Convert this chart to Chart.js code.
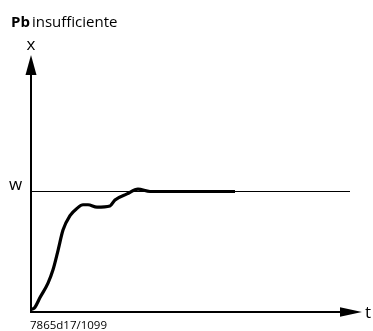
<!DOCTYPE html>
<html>
<head>
<meta charset="utf-8">
<script src="https://cdn.jsdelivr.net/npm/chart.js@4"></script>
<style>
  html, body { margin: 0; padding: 0; background: #fff; }
  #wrap { width: 373px; height: 331px; }
</style>
</head>
<body>
<div id="wrap"><canvas id="stepChart" width="373" height="331"></canvas></div>
<script>
// response curve (t in arbitrary units, x relative to setpoint w = 1)
const timeValues = [0.7, 4, 9, 17, 22, 27, 32, 39, 46, 52, 57, 66, 79, 84, 96, 107, 119, 204];
const responseValues = [0.02, 0.04, 0.12, 0.24, 0.35, 0.51, 0.68, 0.80, 0.86, 0.89, 0.89, 0.87, 0.88, 0.93, 0.98, 1.02, 1.0, 1.0];
const setpointTime = [0, 319];
const setpointValue = 1;
const axisMaxT = 331;
const axisMaxX = 2.1328;

const curve = timeValues.map((t, i) => ({ x: t, y: responseValues[i] }));
const setpoint = setpointTime.map(t => ({ x: t, y: setpointValue }));

const axesPlugin = {
  id: 'arrowAxes',
  afterDraw(chart) {
    const c = chart.ctx;
    const xs = chart.scales.x, ys = chart.scales.y;
    const x0 = xs.getPixelForValue(0), y0 = ys.getPixelForValue(0);
    const xEnd = xs.getPixelForValue(axisMaxT), yEnd = ys.getPixelForValue(axisMaxX);
    c.save();
    c.strokeStyle = '#000';
    c.fillStyle = '#000';
    c.lineWidth = 2;
    c.beginPath();
    c.moveTo(x0, y0 + 1);
    c.lineTo(x0, yEnd + 18);
    c.moveTo(x0, y0);
    c.lineTo(xEnd - 20, y0);
    c.stroke();
    // arrow heads
    c.beginPath();
    c.moveTo(x0, yEnd);
    c.lineTo(x0 - 5.5, yEnd + 20);
    c.lineTo(x0 + 5.5, yEnd + 20);
    c.closePath();
    c.fill();
    c.beginPath();
    c.moveTo(xEnd, y0);
    c.lineTo(xEnd - 22, y0 - 4.7);
    c.lineTo(xEnd - 22, y0 + 4.7);
    c.closePath();
    c.fill();

    // labels
    c.textBaseline = 'alphabetic';
    c.font = 'bold 15px "Open Sans"';
    c.fillText('Pb', 11, 27);
    const pbW = c.measureText('Pb').width;
    c.font = '15px "Open Sans"';
    c.fillText('insufficiente', 11 + pbW + 2, 27);
    c.font = '17px "Open Sans"';
    c.textAlign = 'center';
    c.fillText('x', x0, 50);
    c.textAlign = 'left';
    c.fillText('w', 9, ys.getPixelForValue(setpointValue) - 2);
    c.fillText('t', xEnd + 3, y0 + 6);
    c.font = '11.5px "Open Sans"';
    c.fillText('7865d17/1099', x0 - 1, 329);
    c.restore();
  }
};

const ctx = document.getElementById('stepChart').getContext('2d');
new Chart(ctx, {
  type: 'line',
  data: {
    datasets: [
      {
        label: 'w',
        data: setpoint,
        borderColor: '#000',
        borderWidth: 1,
        pointRadius: 0,
        tension: 0
      },
      {
        label: 'x',
        data: curve,
        borderColor: '#000',
        borderWidth: 3.2,
        pointRadius: 0,
        tension: 0.4,
        cubicInterpolationMode: 'monotone'
      }
    ]
  },
  options: {
    responsive: false,
    animation: false,
    layout: { padding: { left: 31, right: 11, top: 55, bottom: 19 } },
    plugins: { legend: { display: false }, tooltip: { enabled: false } },
    scales: {
      x: { type: 'linear', min: 0, max: axisMaxT, display: false },
      y: { type: 'linear', min: 0, max: axisMaxX, display: false }
    }
  },
  plugins: [axesPlugin]
});
</script>
</body>
</html>
